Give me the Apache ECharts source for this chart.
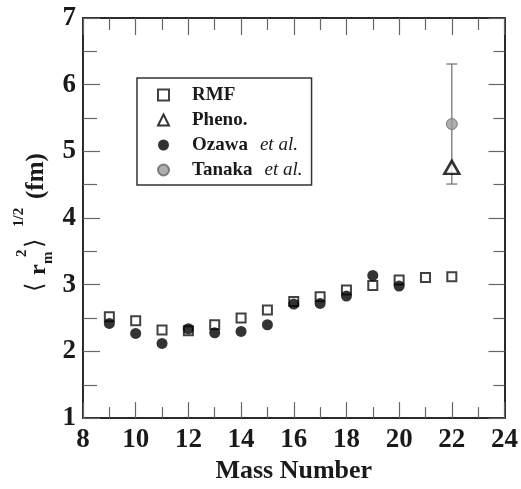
<!DOCTYPE html>
<html>
<head>
<meta charset="utf-8">
<script src="https://cdn.jsdelivr.net/npm/echarts@6/dist/echarts.min.js"></script>
<style>
html,body{margin:0;padding:0;background:#fff;}
#chart{width:521px;height:489px;}
</style>
</head>
<body>
<div id="chart"></div>
<script>
var FONT = 'Liberation Serif';

// RMF calculation
var rmfMass = [9, 10, 11, 12, 13, 14, 15, 16, 17, 18, 19, 20, 21, 22];
var rmfRadius = [2.52, 2.46, 2.32, 2.31, 2.40, 2.50, 2.62, 2.75, 2.82, 2.92, 2.99, 3.07, 3.11, 3.12];

// Ozawa et al.
var ozawaMass = [9, 10, 11, 12, 13, 14, 15, 16, 17, 18, 19, 20];
var ozawaRadius = [2.42, 2.27, 2.12, 2.34, 2.28, 2.30, 2.40, 2.71, 2.72, 2.83, 3.14, 2.98];

// Pheno.
var phenoMass = [22];
var phenoRadius = [4.76];

// Tanaka et al. with error bar
var tanakaMass = [22];
var tanakaRadius = [5.41];
var tanakaLow = [4.51];
var tanakaHigh = [6.31];

var xTicks = {min: 8, max: 24, interval: 2};
var yTicks = {min: 1, max: 7, interval: 1};

function pairs(xs, ys) {
	var out = [];
	for (var i = 0; i < xs.length; i++) out.push([xs[i], ys[i]]);
	return out;
}

var errData = [];
for (var i = 0; i < tanakaMass.length; i++) {
	errData.push([tanakaMass[i], tanakaLow[i], tanakaHigh[i]]);
}

var axisLine = {show: true, lineStyle: {color: '#2a2a2a', width: 2}};

function xAxisOpt(pos, major, minor, labels) {
	return {
		type: 'value', position: pos,
		min: xTicks.min, max: xTicks.max, interval: xTicks.interval,
		axisLine: axisLine,
		axisTick: {show: true, inside: true, length: major, lineStyle: {color: '#666', width: 1.2}},
		minorTick: {show: true, splitNumber: 2, length: minor, lineStyle: {color: '#666', width: 1.2}},
		splitLine: {show: false},
		axisLabel: {show: labels, margin: 8, fontFamily: FONT, fontSize: 27, fontWeight: 'bold', color: '#1a1a1a'},
		name: labels ? 'Mass Number' : '',
		nameLocation: 'middle', nameGap: 36,
		nameTextStyle: {fontFamily: FONT, fontSize: 26, fontWeight: 'bold', color: '#1a1a1a'}
	};
}

function yAxisOpt(pos, major, minor, labels) {
	return {
		type: 'value', position: pos,
		min: yTicks.min, max: yTicks.max, interval: yTicks.interval,
		axisLine: axisLine,
		axisTick: {show: true, inside: true, length: major, lineStyle: {color: '#666', width: 1.2}},
		minorTick: {show: true, splitNumber: 2, length: minor, lineStyle: {color: '#666', width: 1.2}},
		splitLine: {show: false},
		axisLabel: {show: labels, margin: 7, fontFamily: FONT, fontSize: 27, fontWeight: 'bold', color: '#1a1a1a'}
	};
}

// y axis title built piece by piece: <r_m^2>^{1/2} (fm)
var nameFont = function (size, weight) {
	return (weight || 'bold') + ' ' + size + 'px "' + FONT + '"';
};
var yTitle = {
	type: 'group',
	x: 45, y: 292,
	rotation: Math.PI / 2,
	children: [
		{type: 'text', x: 0, y: -9, style: {text: '\u27E8', font: nameFont(24, 'normal'), fill: '#1a1a1a', verticalAlign: 'middle'}},
		{type: 'text', x: 17, y: -6, style: {text: 'r', font: nameFont(24), fill: '#1a1a1a', verticalAlign: 'middle'}},
		{type: 'text', x: 28, y: 3, style: {text: 'm', font: nameFont(15), fill: '#1a1a1a', verticalAlign: 'middle'}},
		{type: 'text', x: 35, y: -23, style: {text: '2', font: nameFont(15), fill: '#1a1a1a', verticalAlign: 'middle'}},
		{type: 'text', x: 44, y: -9, style: {text: '\u27E9', font: nameFont(24, 'normal'), fill: '#1a1a1a', verticalAlign: 'middle'}},
		{type: 'text', x: 65, y: -26, style: {text: '1/2', font: nameFont(15), fill: '#1a1a1a', verticalAlign: 'middle'}},
		{type: 'text', x: 93, y: -8, style: {text: '(fm)', font: nameFont(25), fill: '#1a1a1a', verticalAlign: 'middle'}}
	]
};

var myChart = echarts.init(document.getElementById('chart'), null, {renderer: 'canvas'});

var option = {
	animation: false,
	backgroundColor: '#fff',
	grid: {left: 83, right: 15, top: 18, bottom: 61},
	xAxis: [
		xAxisOpt('bottom', 16, 11, true),
		xAxisOpt('top', 17, 12, false)
	],
	yAxis: [
		yAxisOpt('left', 17, 14, true),
		yAxisOpt('right', 16, 11, false)
	],
	legend: {
		data: ['RMF', 'Pheno.', 'Ozawa', 'Tanaka'],
		orient: 'vertical',
		left: 137, top: 78,
		padding: [7, 9, 5, 20],
		itemWidth: 11, itemHeight: 11, itemGap: 5,
		borderColor: '#333', borderWidth: 1.5, borderRadius: 0,
		backgroundColor: '#fff',
		textStyle: {
			fontFamily: FONT, fontSize: 19, fontWeight: 'bold', color: '#1a1a1a', lineHeight: 20,
			rich: {
				b: {fontFamily: FONT, fontSize: 19, fontWeight: 'bold', color: '#1a1a1a', lineHeight: 20, padding: [0, 0, 0, 18]},
				i: {fontFamily: FONT, fontSize: 19, fontStyle: 'italic', fontWeight: 'normal', color: '#1a1a1a', lineHeight: 20, padding: [0, 0, 0, 12]}
			}
		},
		formatter: function (name) {
			if (name === 'Ozawa' || name === 'Tanaka') return '{b|' + name + '}{i|et al.}';
			return '{b|' + name + '}';
		}
	},
	graphic: [yTitle],
	series: [
		{
			name: 'err',
			type: 'custom',
			data: errData,
			z: 1,
			renderItem: function (params, api) {
				var x = api.value(0);
				var lo = api.coord([x, api.value(1)]);
				var hi = api.coord([x, api.value(2)]);
				var w = 5.5;
				var st = {stroke: '#777', lineWidth: 1.3};
				return {
					type: 'group',
					children: [
						{type: 'line', shape: {x1: lo[0], y1: lo[1], x2: hi[0], y2: hi[1]}, style: st},
						{type: 'line', shape: {x1: lo[0] - w, y1: lo[1], x2: lo[0] + w, y2: lo[1]}, style: st},
						{type: 'line', shape: {x1: hi[0] - w, y1: hi[1], x2: hi[0] + w, y2: hi[1]}, style: st}
					]
				};
			}
		},
		{
			name: 'RMF',
			type: 'scatter',
			data: pairs(rmfMass, rmfRadius),
			symbol: 'rect',
			symbolSize: 9,
			z: 2,
			itemStyle: {color: '#fff', borderColor: '#111', borderWidth: 2}
		},
		{
			name: 'Pheno.',
			type: 'scatter',
			data: pairs(phenoMass, phenoRadius),
			symbol: 'triangle',
			symbolSize: [15, 13],
			z: 3,
			itemStyle: {color: '#fff', borderColor: '#000', borderWidth: 2.5}
		},
		{
			name: 'Ozawa',
			type: 'scatter',
			data: pairs(ozawaMass, ozawaRadius),
			symbol: 'circle',
			symbolSize: 11,
			z: 3,
			itemStyle: {color: '#000'}
		},
		{
			name: 'Tanaka',
			type: 'scatter',
			data: pairs(tanakaMass, tanakaRadius),
			symbol: 'circle',
			symbolSize: 11,
			z: 3,
			itemStyle: {color: '#9a9a9a', borderColor: '#666', borderWidth: 1}
		}
	]
};

myChart.setOption(option);
</script>
</body>
</html>
